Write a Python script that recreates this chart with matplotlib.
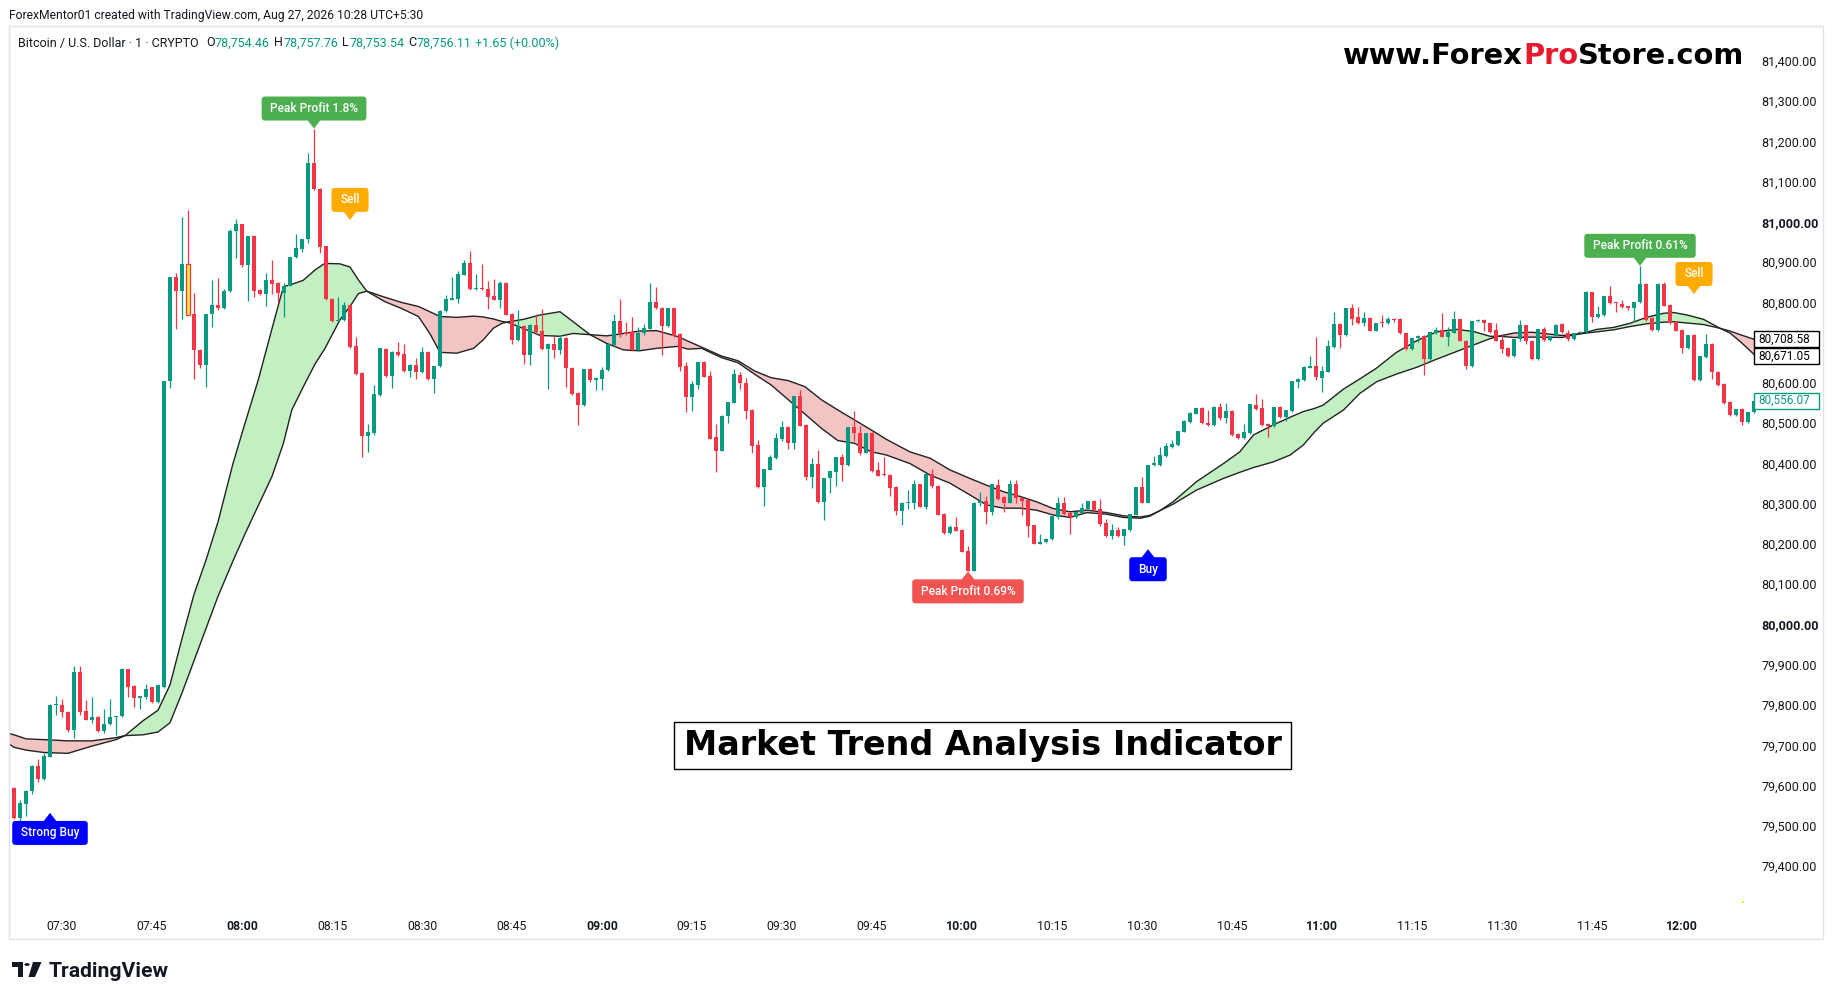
import numpy as np
import matplotlib
matplotlib.use("Agg")
import matplotlib.pyplot as plt
from matplotlib.patches import Rectangle, FancyBboxPatch, Polygon, Circle
from matplotlib.transforms import IdentityTransform

plt.rcParams['font.family'] = ['Roboto', 'DejaVu Sans']

# 1 minute candles, first bar at 07:22
opens = [79593, 79520, 79554, 79586, 79649, 79617, 79672, 79800, 79800, 79782,
         79737, 79881, 79785, 79764, 79770, 79735, 79754, 79770, 79772, 79889,
         79847, 79818, 79820, 79844, 79808, 79845, 80604, 80864, 80829, 80895,
         80772, 80682, 80644, 80772, 80794, 80785, 80828, 80977, 80994, 80893,
         80966, 80831, 80821, 80856, 80849, 80824, 80842, 80912, 80934, 80957,
         81147, 81082, 80939, 80808, 80755, 80757, 80794, 80692, 80624, 80469,
         80476, 80570, 80684, 80618, 80676, 80671, 80630, 80644, 80626, 80677,
         80611, 80642, 80778, 80807, 80809, 80869, 80899, 80834, 80837, 80834,
         80816, 80806, 80849, 80771, 80707, 80742, 80670, 80744, 80729, 80684,
         80698, 80682, 80712, 80637, 80575, 80546, 80634, 80607, 80611, 80631,
         80694, 80755, 80727, 80727, 80682, 80725, 80735, 80801, 80786, 80742,
         80785, 80722, 80642, 80566, 80596, 80652, 80617, 80465, 80432, 80517,
         80551, 80620, 80599, 80533, 80446, 80342, 80385, 80414, 80461, 80491,
         80452, 80568, 80496, 80367, 80399, 80305, 80364, 80380, 80417, 80395,
         80491, 80476, 80427, 80476, 80384, 80373, 80371, 80342, 80283, 80302,
         80302, 80348, 80293, 80375, 80345, 80274, 80228, 80243, 80235, 80183,
         80134, 80303, 80306, 80280, 80347, 80316, 80303, 80349, 80314, 80309,
         80246, 80201, 80205, 80212, 80268, 80303, 80277, 80266, 80278, 80287,
         80307, 80286, 80251, 80220, 80235, 80220, 80235, 80273, 80341, 80303,
         80395, 80396, 80419, 80440, 80446, 80479, 80504, 80524, 80538, 80501,
         80496, 80541, 80512, 80530, 80473, 80464, 80475, 80545, 80537, 80498,
         80493, 80540, 80516, 80531, 80603, 80607, 80638, 80642, 80613, 80628,
         80690, 80746, 80718, 80785, 80763, 80748, 80761, 80730, 80750, 80748,
         80759, 80759, 80723, 80684, 80712, 80717, 80659, 80723, 80731, 80715,
         80725, 80758, 80705, 80641, 80754, 80756, 80748, 80731, 80707, 80687,
         80667, 80709, 80743, 80704, 80659, 80734, 80707, 80716, 80746, 80725,
         80708, 80724, 80727, 80825, 80763, 80769, 80817, 80799, 80796, 80790,
         80785, 80800, 80846, 80761, 80732, 80846, 80794, 80752, 80732, 80686,
         80719, 80607, 80665, 80698, 80628, 80597, 80552, 80520, 80535, 80502,
         80527]
highs = [79596, 79565, 79590, 79652, 79666, 79682, 79803, 79822, 79816, 79784,
         79897, 79897, 79812, 79820, 79772, 79789, 79814, 79772, 79891, 79890,
         79849, 79822, 79852, 79846, 79852, 80606, 80864, 80872, 81012, 81029,
         80824, 80684, 80772, 80855, 80860, 80834, 80983, 81007, 80996, 80965,
         80968, 80833, 80874, 80905, 80851, 80849, 80914, 80970, 80958, 81172,
         81230, 81084, 80941, 80810, 80813, 80800, 80796, 80713, 80626, 80497,
         80595, 80686, 80686, 80680, 80702, 80698, 80646, 80661, 80690, 80679,
         80642, 80780, 80818, 80864, 80877, 80905, 80928, 80871, 80896, 80853,
         80858, 80853, 80851, 80773, 80781, 80744, 80746, 80771, 80784, 80700,
         80717, 80718, 80714, 80639, 80577, 80634, 80636, 80616, 80640, 80697,
         80771, 80809, 80751, 80763, 80738, 80746, 80849, 80839, 80788, 80787,
         80787, 80724, 80651, 80605, 80652, 80654, 80629, 80498, 80521, 80553,
         80635, 80626, 80612, 80535, 80458, 80386, 80422, 80476, 80506, 80493,
         80568, 80582, 80498, 80414, 80433, 80364, 80382, 80417, 80424, 80491,
         80531, 80494, 80476, 80478, 80404, 80415, 80373, 80344, 80304, 80334,
         80359, 80350, 80375, 80387, 80347, 80276, 80246, 80266, 80237, 80196,
         80305, 80330, 80319, 80349, 80361, 80318, 80359, 80359, 80316, 80311,
         80248, 80226, 80214, 80269, 80316, 80316, 80279, 80279, 80301, 80308,
         80309, 80311, 80261, 80250, 80241, 80236, 80275, 80341, 80367, 80396,
         80419, 80442, 80450, 80458, 80481, 80508, 80529, 80538, 80540, 80533,
         80543, 80549, 80549, 80532, 80475, 80498, 80548, 80573, 80560, 80500,
         80540, 80544, 80533, 80605, 80612, 80641, 80667, 80713, 80642, 80707,
         80776, 80748, 80785, 80796, 80788, 80776, 80763, 80748, 80769, 80765,
         80761, 80761, 80725, 80712, 80719, 80719, 80726, 80738, 80773, 80740,
         80778, 80760, 80707, 80754, 80758, 80758, 80750, 80748, 80722, 80689,
         80709, 80756, 80745, 80706, 80734, 80738, 80717, 80746, 80749, 80732,
         80723, 80729, 80829, 80827, 80791, 80817, 80842, 80801, 80806, 80792,
         80802, 80891, 80848, 80763, 80848, 80850, 80796, 80754, 80734, 80719,
         80721, 80668, 80722, 80700, 80630, 80599, 80554, 80535, 80537, 80527,
         80556]
lows = [79518, 79499, 79525, 79578, 79610, 79614, 79670, 79774, 79771, 79734,
        79719, 79776, 79762, 79755, 79733, 79731, 79750, 79726, 79770, 79820,
        79795, 79790, 79815, 79806, 79806, 79843, 80588, 80734, 80759, 80768,
        80611, 80636, 80590, 80740, 80780, 80783, 80826, 80911, 80888, 80804,
        80814, 80819, 80791, 80822, 80802, 80765, 80840, 80910, 80926, 80947,
        81079, 80924, 80806, 80752, 80753, 80755, 80688, 80620, 80417, 80429,
        80470, 80568, 80616, 80587, 80667, 80628, 80616, 80611, 80624, 80607,
        80574, 80640, 80776, 80806, 80799, 80867, 80832, 80832, 80831, 80784,
        80806, 80787, 80768, 80697, 80705, 80647, 80645, 80722, 80682, 80585,
        80662, 80673, 80591, 80571, 80496, 80544, 80603, 80583, 80583, 80629,
        80692, 80715, 80718, 80680, 80680, 80718, 80733, 80783, 80669, 80740,
        80715, 80630, 80527, 80531, 80584, 80614, 80460, 80378, 80430, 80501,
        80549, 80586, 80511, 80427, 80340, 80295, 80383, 80412, 80457, 80437,
        80435, 80492, 80359, 80340, 80303, 80260, 80326, 80345, 80357, 80393,
        80457, 80422, 80425, 80380, 80368, 80369, 80320, 80272, 80248, 80286,
        80286, 80291, 80287, 80338, 80271, 80225, 80225, 80232, 80179, 80132,
        80132, 80295, 80250, 80273, 80310, 80280, 80301, 80302, 80273, 80218,
        80199, 80199, 80203, 80210, 80262, 80272, 80226, 80264, 80276, 80285,
        80282, 80245, 80218, 80213, 80218, 80198, 80233, 80271, 80301, 80301,
        80393, 80394, 80417, 80438, 80444, 80477, 80500, 80522, 80499, 80494,
        80494, 80508, 80500, 80469, 80462, 80462, 80473, 80533, 80494, 80467,
        80491, 80514, 80505, 80529, 80588, 80605, 80636, 80607, 80578, 80626,
        80688, 80688, 80716, 80745, 80746, 80742, 80728, 80728, 80740, 80746,
        80752, 80721, 80682, 80682, 80702, 80619, 80657, 80721, 80713, 80692,
        80723, 80703, 80634, 80639, 80752, 80730, 80725, 80703, 80674, 80665,
        80665, 80703, 80697, 80657, 80657, 80705, 80705, 80714, 80725, 80704,
        80706, 80722, 80725, 80752, 80761, 80767, 80796, 80777, 80786, 80780,
        80755, 80798, 80754, 80730, 80730, 80790, 80746, 80728, 80675, 80684,
        80605, 80605, 80663, 80610, 80593, 80547, 80518, 80518, 80496, 80500,
        80525]
closes = [79520, 79557, 79586, 79649, 79617, 79674, 79800, 79802, 79782, 79737,
          79881, 79782, 79764, 79770, 79735, 79754, 79770, 79772, 79889, 79845,
          79818, 79822, 79841, 79808, 79850, 80604, 80864, 80829, 80895, 80770,
          80681, 80644, 80772, 80794, 80785, 80828, 80977, 80996, 80893, 80965,
          80829, 80821, 80856, 80846, 80824, 80842, 80914, 80935, 80958, 81147,
          81081, 80937, 80808, 80755, 80757, 80794, 80690, 80622, 80469, 80478,
          80573, 80686, 80618, 80678, 80670, 80630, 80644, 80626, 80677, 80611,
          80642, 80778, 80808, 80811, 80871, 80899, 80834, 80837, 80834, 80814,
          80806, 80849, 80770, 80707, 80742, 80670, 80744, 80727, 80684, 80698,
          80682, 80712, 80636, 80573, 80546, 80634, 80607, 80612, 80632, 80697,
          80755, 80723, 80722, 80682, 80725, 80736, 80801, 80785, 80742, 80785,
          80717, 80640, 80566, 80597, 80652, 80616, 80462, 80432, 80518, 80553,
          80622, 80599, 80531, 80444, 80342, 80386, 80417, 80463, 80491, 80452,
          80568, 80494, 80367, 80399, 80305, 80364, 80382, 80417, 80395, 80491,
          80475, 80427, 80476, 80382, 80370, 80371, 80340, 80283, 80302, 80304,
          80348, 80293, 80375, 80345, 80273, 80228, 80243, 80233, 80181, 80134,
          80303, 80306, 80280, 80349, 80312, 80303, 80349, 80314, 80308, 80245,
          80201, 80205, 80212, 80269, 80303, 80274, 80266, 80279, 80289, 80307,
          80284, 80250, 80220, 80235, 80220, 80236, 80275, 80341, 80303, 80396,
          80400, 80421, 80443, 80448, 80481, 80506, 80526, 80538, 80501, 80496,
          80541, 80512, 80530, 80471, 80464, 80477, 80548, 80535, 80496, 80493,
          80540, 80516, 80533, 80605, 80610, 80639, 80642, 80614, 80630, 80692,
          80746, 80718, 80785, 80760, 80748, 80761, 80730, 80748, 80748, 80759,
          80757, 80723, 80684, 80712, 80717, 80659, 80726, 80731, 80715, 80726,
          80758, 80705, 80641, 80754, 80756, 80748, 80727, 80705, 80685, 80667,
          80709, 80743, 80703, 80659, 80734, 80707, 80717, 80744, 80727, 80708,
          80723, 80727, 80827, 80763, 80771, 80817, 80798, 80798, 80788, 80785,
          80802, 80846, 80756, 80732, 80846, 80792, 80748, 80730, 80686, 80719,
          80607, 80668, 80698, 80626, 80595, 80549, 80520, 80535, 80502, 80527,
          80556.07]
highlight_bar = 29  # the yellow bar

# trend band: minutes after 07:22, fast and slow line
band_t = [-1, 0, 2, 5, 9, 13, 17, 18.5, 21.5, 24, 26, 28, 30, 32, 34, 36.5, 38.5, 40.7, 43, 44.9,
          46.3, 48.2, 50.2, 51.8, 54.3, 56, 57.4, 58.8, 61.8, 64.6, 67.4, 69.3, 71, 73.8, 76.6,
          78.2, 79.9, 81.3, 82.4, 84.9, 87.7, 91, 93.2, 96, 98.8, 101.6, 104.3, 107.1, 110.7,
          112.3, 114.6, 117.9, 120.7, 123.4, 126.2, 129, 131.8, 134.6, 137.3, 140.1, 142.9,
          145.4, 149.3, 152.7, 156, 159.3, 162.1, 164.9, 167.7, 170.4, 173.2, 176, 178.8,
          182.1, 184.9, 187.7, 189.3, 191, 193.2, 197.1, 201.6, 204.3, 206.6, 209.9, 212.7,
          214.9, 216.8, 218.2, 221.6, 224.3, 227.1, 230.4, 233.8, 237.1, 240.4, 243.2, 246,
          247.7, 250, 253, 258, 261, 263.8, 266.6, 269.3, 272.1, 274.9, 276.6, 278.8, 281.6,
          284.3, 286, 287.7, 290]
fast_line = [79705, 79695, 79688, 79682, 79680, 79698, 79714, 79724, 79761, 79787, 79850, 79965,
             80075, 80160, 80255, 80400, 80500, 80607, 80735, 80839, 80845, 80855, 80881, 80897,
             80896, 80888, 80856, 80828, 80802, 80785, 80765, 80723, 80676, 80674, 80686, 80707,
             80736, 80748, 80752, 80758, 80769, 80777, 80752, 80720, 80698, 80682, 80680, 80686,
             80691, 80684, 80686, 80663, 80650, 80622, 80595, 80559, 80523, 80487, 80457, 80450,
             80429, 80421, 80400, 80371, 80351, 80322, 80297, 80289, 80289, 80284, 80272, 80266,
             80278, 80274, 80266, 80264, 80269, 80283, 80305, 80355, 80400, 80429, 80471, 80496,
             80515, 80529, 80537, 80545, 80585, 80610, 80637, 80676, 80705, 80727, 80733, 80728,
             80716, 80716, 80713, 80714, 80713, 80722, 80733, 80738, 80748, 80763, 80773, 80775,
             80769, 80758, 80736, 80724, 80703, 80671.05]
slow_line = [79730, 79726, 79716, 79714, 79711, 79711, 79719, 79724, 79726, 79733, 79756, 79830,
             79910, 79990, 80070, 80158, 80225, 80295, 80368, 80450, 80533, 80590, 80648, 80685,
             80756, 80790, 80822, 80828, 80813, 80800, 80790, 80777, 80765, 80763, 80766, 80764,
             80759, 80753, 80750, 80735, 80718, 80716, 80723, 80720, 80717, 80723, 80729, 80730,
             80715, 80704, 80689, 80667, 80655, 80630, 80613, 80606, 80591, 80558, 80533, 80508,
             80483, 80460, 80429, 80413, 80384, 80363, 80346, 80330, 80318, 80305, 80288, 80280,
             80284, 80278, 80270, 80267, 80271, 80283, 80299, 80334, 80363, 80378, 80390, 80404,
             80421, 80446, 80479, 80500, 80533, 80574, 80603, 80622, 80639, 80659, 80678, 80694,
             80710, 80717, 80724, 80726, 80718, 80722, 80727, 80732, 80740, 80747, 80751, 80752,
             80749, 80745, 80736, 80729, 80720, 80708.58]

# signal labels: bar (minutes after 07:22), price of the tip, text, colour, above the bar?
signal_t = [6, 50, 56, 159, 189, 271, 280]
signal_price = [79532, 81232, 81005, 80132, 80187, 80891, 80821]
signal_text = ["Strong Buy", "Peak Profit 1.8%", "Sell", "Peak Profit 0.69%", "Buy",
               "Peak Profit 0.61%", "Sell"]
signal_color = ["#0000ff", "#4caf50", "#ffab00", "#f05350", "#0000ff", "#4caf50", "#ffab00"]
signal_above = [False, True, True, False, False, True, True]

# small dot near the bottom right
dot_t = [288.2]
dot_price = [79311]

time_labels = ["07:30", "07:45", "08:00", "08:15", "08:30", "08:45", "09:00", "09:15", "09:30",
               "09:45", "10:00", "10:15", "10:30", "10:45", "11:00", "11:15", "11:30", "11:45",
               "12:00"]
price_ticks = list(range(79400, 81401, 100))
hidden_price_tick = 80700  # covered by the value boxes in the picture

GREEN = "#089981"
RED = "#f23645"
TXT = "#131722"

W, H = 1835, 1000
fig = plt.figure(figsize=(W / 100, H / 100), dpi=100)
fig.patch.set_facecolor("white")


def fx(px):
    return px / W


def fy(py):
    return 1 - py / H


# pixel layout of the chart pane
pane_l, pane_r, pane_t, pane_b = 10, 1756, 27, 905
ax = fig.add_axes([fx(pane_l), fy(pane_b), fx(pane_r) - fx(pane_l), fy(pane_t) - fy(pane_b)])
ax.set_xlim((pane_l - 62) / 6 + 8, (pane_r - 62) / 6 + 8)
ax.set_ylim(81400 - (pane_b - 60.9) * 2.484, 81400 - (pane_t - 60.9) * 2.484)
for s in ax.spines.values():
    s.set_visible(False)

# band
bt = np.array(band_t)
fl = np.array(fast_line)
sl = np.array(slow_line)
ax.fill_between(bt, fl, sl, where=fl >= sl, interpolate=True, color="#c2f0c2", lw=0, zorder=1)
ax.fill_between(bt, fl, sl, where=fl < sl, interpolate=True, color="#f2c4c4", lw=0, zorder=1)
ax.plot(bt, fl, color="#222222", lw=1.0, zorder=2)
ax.plot(bt, sl, color="#222222", lw=1.0, zorder=2)

# candles
o = np.array(opens, dtype=float)
c = np.array(closes, dtype=float)
hi = np.array(highs, dtype=float)
lo = np.array(lows, dtype=float)
idx = np.arange(len(c))
cols = np.where(c >= o, GREEN, RED)
ax.vlines(idx, lo, hi, colors=cols, lw=0.9, zorder=3)
body_h = np.maximum(np.abs(c - o), 2.5)
ax.bar(idx, body_h, bottom=np.minimum(o, c), width=0.74, color=cols, lw=0, zorder=4)
ax.bar(idx[highlight_bar], body_h[highlight_bar], bottom=min(o[highlight_bar], c[highlight_bar]),
       width=0.74, color="#ffeb3b", edgecolor=RED, lw=0.9, zorder=5)
ax.scatter(dot_t, dot_price, s=3, color="#e6f000", marker="s", lw=0, zorder=3)

# axes ticks
ax.set_xticks([8 + 15 * k for k in range(len(time_labels))])
ax.set_xticklabels(time_labels)
ax.tick_params(axis="x", length=0, pad=11, labelsize=8.8, labelcolor=TXT)
for lab in ax.get_xticklabels():
    if lab.get_text().endswith(":00"):
        lab.set_fontweight("bold")
ax.yaxis.tick_right()
ax.set_yticks(price_ticks)
ax.set_yticklabels(["" if p == hidden_price_tick else "{:,.2f}".format(p) for p in price_ticks])
ax.tick_params(axis="y", length=0, pad=4, labelsize=9, labelcolor=TXT)
for lab in ax.get_yticklabels():
    if lab.get_text() in ("81,000.00", "80,000.00"):
        lab.set_fontweight("bold")

renderer = fig.canvas.get_renderer()


def text_width(s, **kw):
    t = fig.text(0, 0, s, **kw)
    w = t.get_window_extent(renderer).width
    t.remove()
    return w


def fit_size(s, target, base=10, **kw):
    return base * target / text_width(s, fontsize=base, **kw)


# signal labels
ident = IdentityTransform()
for t, p, s, col, above in zip(signal_t, signal_price, signal_text, signal_color, signal_above):
    x0, y0 = ax.transData.transform((t, p))
    bw = text_width(s, fontsize=8.6) + 18
    bh, gap = 24, 8
    if above:
        yb = y0 + gap
        tri = [(x0, y0), (x0 - 7, y0 + gap + 1), (x0 + 7, y0 + gap + 1)]
    else:
        yb = y0 - gap - bh
        tri = [(x0, y0), (x0 - 7, y0 - gap - 1), (x0 + 7, y0 - gap - 1)]
    ax.add_patch(FancyBboxPatch((x0 - bw / 2, yb), bw, bh, boxstyle="round,pad=0,rounding_size=3",
                                fc=col, ec="none", transform=ident, zorder=6, clip_on=False))
    ax.add_patch(Polygon(tri, closed=True, fc=col, ec="none", transform=ident, zorder=6,
                         clip_on=False))
    ax.text(x0, yb + bh / 2, s, color="white", fontsize=8.6, fontweight="medium",
            ha="center", va="center", transform=ident, zorder=7)

# last value boxes on price scale, stacked so they do not cover each other
box_h = 16
prev_bottom = None
for val, ec, tc in [(80708.58, "black", "black"), (80671.05, "black", "black"),
                    (closes[-1], GREEN, GREEN)]:
    _, yv = ax.transData.transform((0, val))
    if prev_bottom is not None and yv + box_h / 2 > prev_bottom - 1:
        yv = prev_bottom - 1 - box_h / 2
    prev_bottom = yv - box_h / 2
    fig.add_artist(Rectangle((1754, yv - box_h / 2), 65, box_h, transform=ident, fc="white",
                             ec=ec, lw=1, zorder=8))
    fig.text(fx(1758), yv / H, "{:,.2f}".format(val), fontsize=8.5, color=tc,
             ha="left", va="center", zorder=9)

# frame of the chart
fig.add_artist(Rectangle((fx(9), fy(939)), fx(1823) - fx(9), fy(26) - fy(939),
                         transform=fig.transFigure, fill=False, ec="#e0e3eb", lw=1))

# header lines
hsize = fit_size("ForexMentor01 created with TradingView.com, Aug 27, 2026 10:28 UTC+5:30", 412)
fig.text(fx(9), fy(15), "ForexMentor01 created with TradingView.com, Aug 27, 2026 10:28 UTC+5:30",
         fontsize=hsize, color=TXT, va="center", ha="left")
ssize = fit_size("Bitcoin / U.S. Dollar \u00b7 1 \u00b7 CRYPTO", 180)
sym_parts = [(18, "Bitcoin / U.S. Dollar \u00b7 1 \u00b7 CRYPTO", TXT), (206, "O", TXT),
             (214, "78,754.46", GREEN), (274, "H", TXT), (283, "78,757.76", GREEN),
             (342, "L", TXT), (349, "78,753.54", GREEN), (408, "C", TXT),
             (416, "78,756.11", GREEN), (475, "+1.65 (+0.00%)", GREEN)]
for px, s, col in sym_parts:
    fig.text(fx(px), fy(43), s, fontsize=ssize, color=col, va="center", ha="left")

# watermark, fitted to its width in the picture
parts = [("www.Forex", "black"), ("Pro", "#e8192c"), ("Store.com", "black")]
wm_kw = dict(fontweight="bold", family="DejaVu Sans")
total = sum(text_width(s, fontsize=20, **wm_kw) for s, _ in parts)
size = 20 * 401 / total
xpos = 1343
for s, col in parts:
    fig.text(fx(xpos), fy(64), s, fontsize=size, color=col, va="baseline", ha="left", **wm_kw)
    xpos += text_width(s, fontsize=size, **wm_kw)

# title box
title = "Market Trend Analysis Indicator"
fig.add_artist(Rectangle((fx(674), fy(769)), fx(1291) - fx(674), fy(722) - fy(769),
                         transform=fig.transFigure, fc="white", ec="black", lw=1, zorder=9))
tsize = fit_size(title, 598, fontweight="bold", family="DejaVu Sans")
fig.text(fx(982.5), fy(746), title, fontsize=tsize, fontweight="bold", family="DejaVu Sans",
         color="black", ha="center", va="center", zorder=10)

# TradingView logo
lsize = fit_size("TradingView", 120, fontweight="bold")
fig.text(fx(49), fy(977), "TradingView", fontsize=lsize, fontweight="bold", color=TXT,
         ha="left", va="baseline")
fig.add_artist(Polygon([(fx(11.5), fy(962)), (fx(23), fy(962)), (fx(23), fy(977)),
                        (fx(18), fy(977)), (fx(18), fy(967)), (fx(11.5), fy(967))],
                       closed=True, transform=fig.transFigure, fc=TXT, ec="none"))
fig.add_artist(Circle((fx(27), fy(964.5)), 2.6 / W, transform=fig.transFigure, fc=TXT, ec="none"))
fig.add_artist(Polygon([(fx(33), fy(962)), (fx(41.5), fy(962)), (fx(35), fy(977)),
                        (fx(28.5), fy(977))], closed=True, transform=fig.transFigure,
                       fc=TXT, ec="none"))

fig.savefig("out.png", dpi=100, facecolor="white")
